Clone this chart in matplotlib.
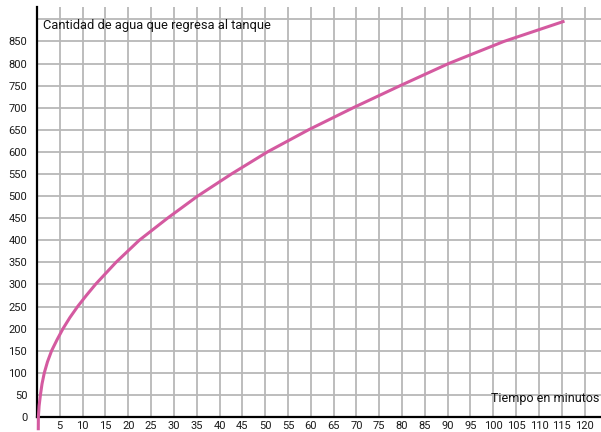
import matplotlib
matplotlib.use('Agg')
from matplotlib import pyplot as plt

# values
minutos = [0.28, 0.3, 0.46, 0.75, 1.1, 1.6, 2.3, 3.2, 4.4, 5.7, 7.2, 8.9, 10.8, 12.8,
           17.3, 22.4, 28.6, 35.2, 42.6, 50.5, 59.5, 69.3, 79.6, 90.2, 102.3, 115.6]
agua = [-30, 0, 25, 50, 75, 100, 125, 150, 175, 200, 225, 250, 275, 300,
        350, 400, 450, 500, 550, 600, 650, 700, 750, 800, 850, 896]
xticks = list(range(5, 121, 5))
yticks = list(range(0, 901, 50))
ylabels = [str(v) for v in yticks[:-1]] + ['']

plt.rcParams['font.family'] = ['Roboto', 'DejaVu Sans']

fig = plt.figure(figsize=(6.01, 4.32), dpi=100)
ax = fig.add_axes([37 / 601, 15 / 432, 1 - 37 / 601, 410 / 432])
ax.set_xlim(0, 123.6)
ax.set_ylim(0, 928)

ax.set_xticks(xticks)
ax.set_xticklabels([str(v) for v in xticks])
ax.set_yticks(yticks)
ax.set_yticklabels(ylabels)
ax.tick_params(length=0, labelsize=8, colors='#1a1a1a')
ax.tick_params(axis='y', pad=7)
ax.tick_params(axis='x', pad=3)
ax.grid(True, color='#b8b8b8', linewidth=1.3)
ax.set_axisbelow(True)

for s in ['top', 'right']:
    ax.spines[s].set_visible(False)
ax.spines['left'].set_linewidth(1.6)
ax.spines['bottom'].set_linewidth(1.6)

ax.plot(minutos, agua, color='#d45aa0', linewidth=2.2, clip_on=False, zorder=5,
        solid_capstyle='butt', solid_joinstyle='round')

ax.text(0.01, 0.955, 'Cantidad de agua que regresa al tanque', transform=ax.transAxes,
        fontsize=9.3, va='center', ha='left', color='#111111')
ax.text(0.997, 0.045, 'Tiempo en minutos', transform=ax.transAxes,
        fontsize=9, va='center', ha='right', color='#111111')

fig.savefig('out.png', dpi=100)
